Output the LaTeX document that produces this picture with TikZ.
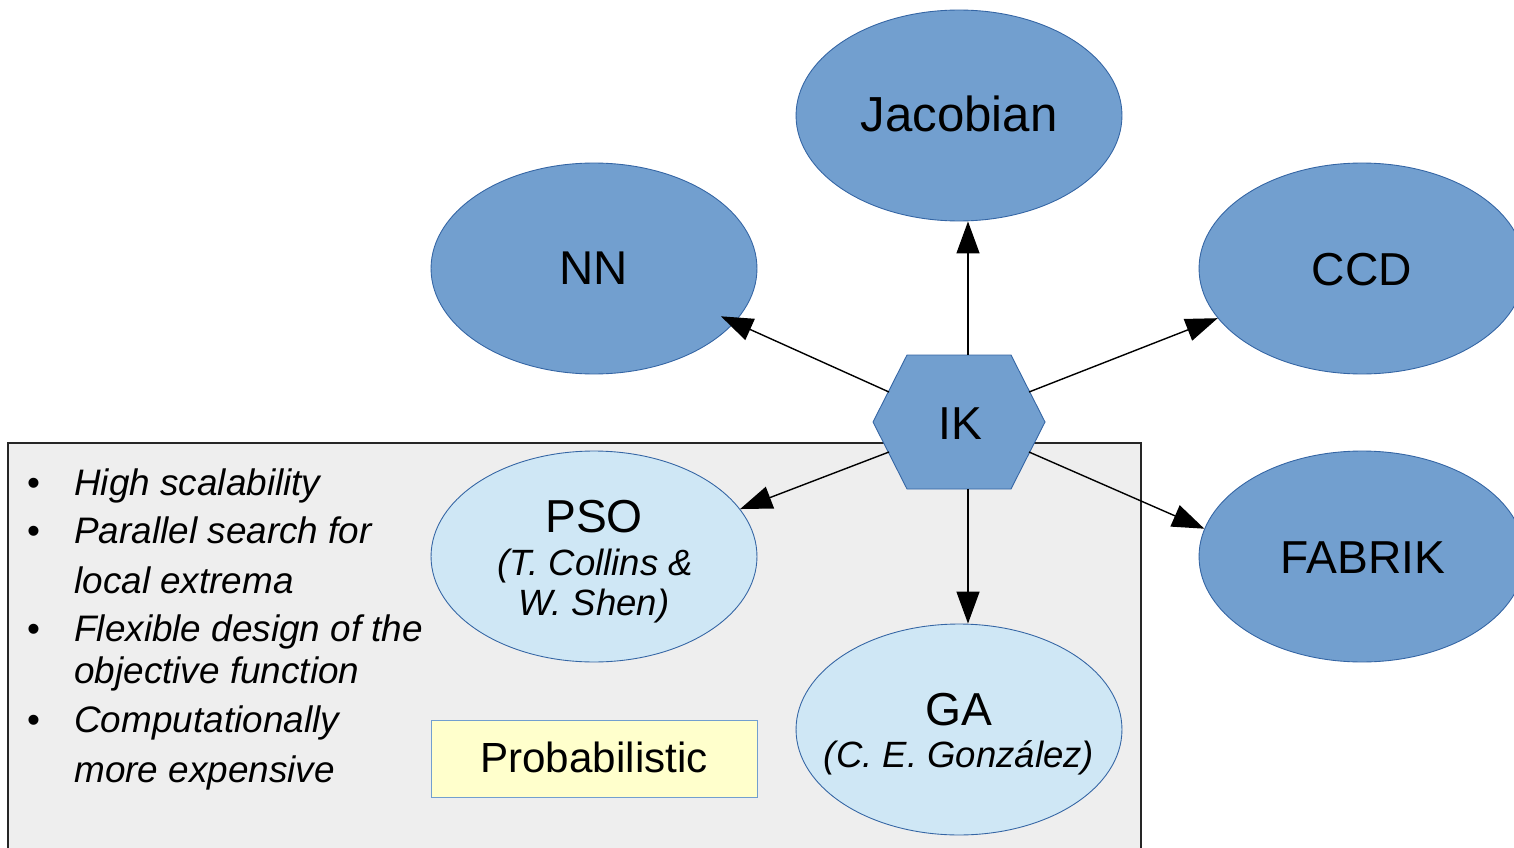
\documentclass[tikz,border=0pt]{standalone}
\usepackage{fontspec}
\setmainfont{Liberation Sans}
\usetikzlibrary{shapes.geometric,arrows.meta,calc}

\definecolor{darkblue}{HTML}{729FCF}
\definecolor{edgeblue}{HTML}{3465A4}
\definecolor{paleblue}{HTML}{CFE7F5}
\definecolor{panelgray}{HTML}{EEEEEE}
\definecolor{paleyellow}{HTML}{FFFFCC}

\tikzset{
  method/.style={ellipse, inner sep=0pt, minimum width=6.52cm, minimum height=4.22cm,
                 draw=edgeblue, line width=0.5pt},
  classic/.style={method, fill=darkblue},
  stochastic/.style={method, fill=paleblue},
  bigtxt/.style={inner sep=0pt, anchor=base, font=\fontsize{26.3}{30}\selectfont},
  subtxt/.style={inner sep=0pt, anchor=base, font=\fontsize{20.8}{24}\selectfont\itshape},
  bullettxt/.style={inner sep=0pt, anchor=base west, font=\fontsize{21}{25}\selectfont\itshape},
  bulletdot/.style={inner sep=0pt, anchor=base, font=\fontsize{21}{25}\selectfont},
  arr/.style={draw=black, line width=0.8pt, -{Triangle[length=0.64cm,width=0.46cm]}},
}

\begin{document}
\begin{tikzpicture}[x=0.02cm, y=-0.02cm]
  \useasboundingbox (0,0) rectangle (1514,848);
  \clip (0,0) rectangle (1514,848);
  \fill[white] (0,0) rectangle (1514,848);

  % panel grouping the probabilistic methods
  \draw[fill=panelgray, draw=black!85, line width=0.6pt] (8,443) rectangle (1141,870);

  % deterministic solvers
  \node[classic] (Jac) at (959,115.5) {};
  \node[classic] (NN)  at (594,268.5) {};
  \node[classic] (CCD) at (1362,268.5) {};
  \node[classic] (FAB) at (1362,556.5) {};

  % probabilistic solvers
  \node[stochastic] (PSO) at (594,556.5) {};
  \node[stochastic] (GA)  at (959,729.5) {};

  \node[bigtxt, font=\fontsize{28}{32}\selectfont] (tJac) at (959,132) {Jacobian};
  \node[bigtxt, font=\fontsize{27}{31}\selectfont] (tNN)  at (594,284) {NN};
  \node[bigtxt] (tCCD) at (1362,285) {CCD};
  \node[bigtxt] (tFAB) at (1363,573) {FABRIK};
  \node[bigtxt] (tPSO) at (594,532) {PSO};
  \node[subtxt] (tPSOa) at (595,575) {(T. Collins \&};
  \node[subtxt] (tPSOb) at (594,615) {W. Shen)};
  \node[bigtxt] (tGA) at (959,725) {GA};
  \node[subtxt] (tGAa) at (959,767) {(C. E. González)};

  % label box
  \node[draw=darkblue, fill=paleyellow, line width=0.5pt, inner sep=0pt,
        minimum width=6.52cm, minimum height=1.54cm] (prob) at (594,758.5) {};
  \node[bigtxt, font=\fontsize{24}{28}\selectfont] (tprob) at (594,772) {Probabilistic};

  % central IK hexagon
  \coordinate (h1) at (907,355);
  \coordinate (h2) at (1011,355);
  \coordinate (h3) at (1045,422);
  \coordinate (h4) at (1011,489);
  \coordinate (h5) at (907,489);
  \coordinate (h6) at (873,422);
  \draw[fill=darkblue, draw=edgeblue, line width=0.5pt] (h1) -- (h2) -- (h3) -- (h4) -- (h5) -- (h6) -- cycle;
  \node[bigtxt] (IK) at (960,439) {IK};

  % arrow origins on the hexagon
  \coordinate (ikN)  at (968,355);
  \coordinate (ikS)  at (968,489);
  \coordinate (ikNW) at (889,392);
  \coordinate (ikNE) at (1029,392);
  \coordinate (ikSW) at (889,452);
  \coordinate (ikSE) at (1029,452);

  \draw[arr] (ikN)  -- (ikN |- Jac.south);
  \draw[arr, shorten >=-0.3cm] (ikNW) -- (NN.-21);
  \draw[arr] (ikNE) -- (CCD.199);
  \draw[arr] (ikSW) -- (PSO.18);
  \draw[arr] (ikSE) -- (FAB.170);
  \draw[arr] (ikS)  -- (ikS |- GA.north);

  % properties of the probabilistic methods
  \node[bulletdot] (b1) at (33.5,495) {•};
  \node[bullettxt] (l1) at (74,495) {High scalability};
  \node[bulletdot] (b2) at (33.5,543) {•};
  \node[bullettxt] (l2) at (74,543) {Parallel search for};
  \node[bullettxt] (l2b) at (74,593) {local extrema};
  \node[bulletdot] (b3) at (33.5,641) {•};
  \node[bullettxt] (l3) at (74,641) {Flexible design of the};
  \node[bullettxt] (l3b) at (74,683) {objective function};
  \node[bulletdot] (b4) at (33.5,732) {•};
  \node[bullettxt] (l4) at (74,732) {Computationally};
  \node[bullettxt] (l4b) at (74,782) {more expensive};
\end{tikzpicture}
\end{document}
